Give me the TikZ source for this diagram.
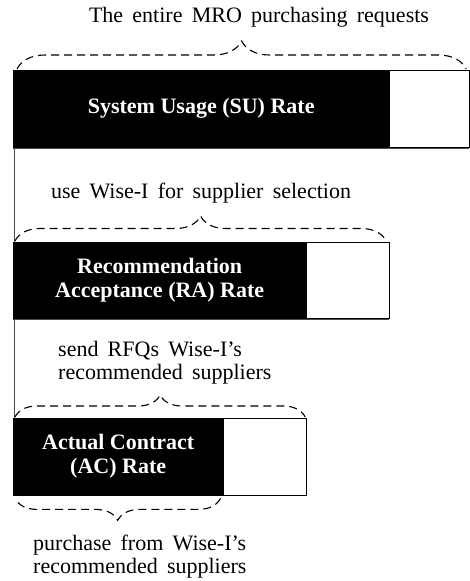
\documentclass[tikz,border=0pt]{standalone}
\usepackage{fontspec}
\setmainfont{Liberation Serif}
\usetikzlibrary{decorations.pathreplacing}
\newcommand\mylblfont{\fontsize{22}{23}\selectfont\spaceskip=0.42em\relax}
\tikzset{
  blackbar/.style={fill=black, draw=black, anchor=north west, inner sep=0pt,
    text=white, align=center, font=\fontsize{22}{24}\selectfont\bfseries},
  whitebox/.style={fill=white, draw=black, line width=1.2pt, anchor=north west, inner sep=0pt},
  lbl/.style={inner sep=0pt, font=\mylblfont},
  dbrace/.style={dashed, dash pattern=on 8pt off 5pt, line width=1.1pt,
    decorate, decoration={brace, amplitude=#1}},
  frame/.style={draw=black!70, line width=0.9pt}
}
\begin{document}
\begin{tikzpicture}[x=1pt,y=-1pt]
\useasboundingbox (0,0) rectangle (469,581);
% frame lines
\draw[frame] (13,148) -- (469,148);
\draw[frame] (13,319) -- (389,319);
\draw[frame] (14,148) -- (14,418);
% bars
\node[blackbar, minimum width=376pt, minimum height=77pt] (su) at (13,70) {System Usage (SU) Rate};
\node[whitebox, minimum width=80pt, minimum height=77pt] (suw) at (389,70) {};
\node[blackbar, minimum width=293pt, minimum height=76pt] (ra) at (13,242) {Recommendation\\Acceptance (RA) Rate};
\node[whitebox, minimum width=83pt, minimum height=76pt] (raw) at (306,242) {};
\node[blackbar, minimum width=210pt, minimum height=77pt] (ac) at (13,418) {Actual Contract\\(AC) Rate};
\node[whitebox, minimum width=83pt, minimum height=77pt] (acw) at (223,418) {};
% braces
\draw[dbrace=28pt] ([xshift=4pt,yshift=1pt]su.north west) -- ([xshift=-4pt,yshift=1pt]suw.north east);
\draw[dbrace=25pt] ([xshift=2pt,yshift=1pt]ra.north west) -- ([xshift=-4pt,yshift=1pt]raw.north east);
\draw[dbrace=22pt] ([xshift=2pt,yshift=1pt]ac.north west) -- ([xshift=-2pt,yshift=1pt]acw.north east);
\draw[dbrace=22pt] ([xshift=-3pt,yshift=-3pt]ac.south east) -- ([xshift=2pt,yshift=-3pt]ac.south west);
% labels
\node[lbl] (l1) at (259,17) {The entire MRO purchasing requests};
\node[lbl] (l2) at (201,193) {use Wise-I for supplier selection};
\node[lbl, align=left, anchor=west] (l3) at (58,363) {send RFQs Wise-I’s\\recommended suppliers};
\node[lbl, align=left, anchor=west] (l4) at (33,557) {purchase from Wise-I’s\\recommended suppliers};
\end{tikzpicture}
\end{document}
